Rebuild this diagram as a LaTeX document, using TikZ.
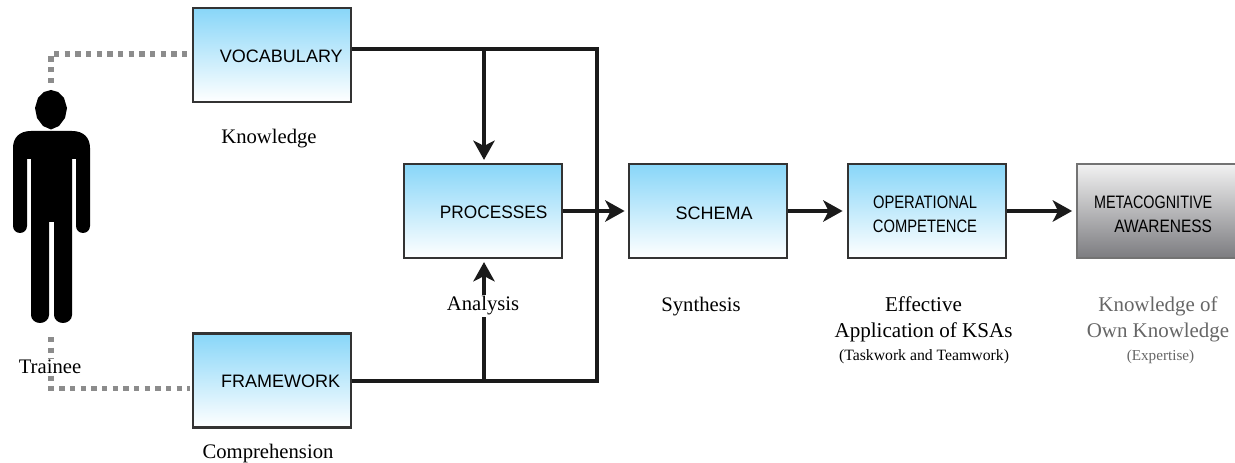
\documentclass[tikz,border=0pt]{standalone}
\usepackage{fontspec}
\usepackage{graphicx}
\setmainfont{Liberation Serif}
\newfontfamily\boxfont{Liberation Sans}
\usetikzlibrary{arrows.meta,calc,shadows}
\definecolor{skyT}{HTML}{88D6F8}
\definecolor{greyB}{HTML}{7C7C80}
\definecolor{greyT}{HTML}{F2F2F2}
\definecolor{dashg}{HTML}{8C8C8C}
\definecolor{lineK}{HTML}{1A1A1A}
\pgfdeclareverticalshading{skyshade}{100bp}{color(0bp)=(white); color(25bp)=(white); color(75bp)=(skyT); color(100bp)=(skyT)}
\pgfdeclareverticalshading{greyshade}{100bp}{color(0bp)=(greyB); color(25bp)=(greyB); color(75bp)=(greyT); color(100bp)=(greyT)}
\tikzset{
  x=0.75pt,y=-0.75pt,
  stagebox/.style={draw=black!80,line width=1.6pt,minimum width=119pt,minimum height=70.5pt,inner sep=0pt,
    shading=skyshade,font=\boxfont\fontsize{13.5}{17}\selectfont,align=center,
    drop shadow={shadow xshift=0.8pt,shadow yshift=-0.8pt,opacity=0.2}},
  greybox/.style={stagebox,draw=black!55,shading=greyshade},
  captxt/.style={font=\fontsize{15.5}{19}\selectfont,align=center,inner sep=1pt,text=black},
  smallcap/.style={font=\fontsize{11.8}{14}\selectfont,inner sep=1pt},
  link/.style={draw=lineK,line width=3pt},
  flow/.style={link,-{Stealth[length=14.5pt,width=16pt,inset=4pt]}},
  dots/.style={draw=dashg,line width=3.9pt,dash pattern=on 4pt off 4pt},
  fig/.style={fill=black,draw=none}
}
\begin{document}
\begin{tikzpicture}
\useasboundingbox (0,0) rectangle (1235,463);
% person
\fill[fig] (51,90) -- (58,92) -- (64,98) -- (67,108) -- (65,118) -- (59,126) -- (51,129.5) -- (43,126) -- (37,118) -- (35,108) -- (38,98) -- (44,92) -- cycle;
\fill[fig] (31,131) -- (72,131) .. controls (84,131) and (90,138) .. (90,148) -- (90,226) arc[start angle=0,end angle=180,x radius=7,y radius=7] -- (76,159) -- (72,159) -- (72,315) arc[start angle=0,end angle=180,x radius=9,y radius=8] -- (54,222) -- (49,222) -- (49,315) arc[start angle=0,end angle=180,x radius=9,y radius=8] -- (31,159) -- (27,159) -- (27,226) arc[start angle=0,end angle=180,x radius=7,y radius=7] -- (13,148) .. controls (13,138) and (19,131) .. (31,131) -- cycle;
% boxes
\node[stagebox,shade] (voc) at (272,55) {\hspace*{14pt}\rule{0pt}{11.2pt}VOCABULARY};
\node[stagebox,shade] (fra) at (272,380.5) {\hspace*{13pt}\rule{0pt}{10.5pt}FRAMEWORK};
\node[stagebox,shade] (pro) at (483,211) {\hspace*{16pt}\rule{0pt}{11.2pt}\scalebox{0.96}[1]{PROCESSES}};
\node[stagebox,shade] (sch) at (708,211) {\hspace*{9pt}\rule{0pt}{12.7pt}SCHEMA};
\node[stagebox,shade] (ope) at (927,211) {\hspace*{-3pt}\rule{0pt}{14.2pt}\scalebox{0.82}[1]{OPERATIONAL}\\[0.6pt]\hspace*{-3pt}\scalebox{0.82}[1]{COMPETENCE}};
\node[greybox,shade] (met) at (1156.5,211) {\hspace*{-5pt}\rule{0pt}{14.2pt}\scalebox{0.8}[1]{METACOGNITIVE}\\[0.6pt]\hspace*{10pt}\scalebox{0.86}[1]{AWARENESS}};
% captions
\node[captxt] (kno) at (269,139) {Knowledge};
\node[captxt] (com) at (268,453.5) {Comprehension};
\node[captxt,fill=white] (tra) at (50,367) {Trainee};
\node[captxt] (syn) at (701,306.5) {Synthesis};
\node[captxt,font=\fontsize{15.8}{19.5}\selectfont] (eff) at (923.5,319.5) {Effective\\Application of KSAs};
\node[smallcap] (tas) at (924,357) {(Taskwork and Teamwork)};
\node[captxt,text=black!60,font=\fontsize{15.7}{19.5}\selectfont] (own) at (1158,319) {Knowledge of\\Own Knowledge};
\node[smallcap,font=\fontsize{11.4}{14}\selectfont,text=black!60] (exp) at (1160.5,357) {(Expertise)};
% dotted links
\coordinate (pA) at (51,83);
\coordinate (pB) at (51,337);
\draw[dots] (pA) |- ($(voc.west)+(-4,-1)$);
% connectors
\coordinate (jv) at (484,49);
\coordinate (jf) at (484,381);
\coordinate (jr) at (597,49);
\draw[link] (voc.east |- jv) -- (jr) |- (fra.east |- jf);
\draw[flow] (jv) -- ($(pro.north -| jv)+(0,-3)$);
\draw[link] (jf) -- (484,316);
\node[captxt,fill=white] (ana) at (483,306) {Analysis};
\draw[flow] (ana.north -| jf) -- ($(pro.south -| jf)+(0,3)$);
\draw[flow] (pro.east) -- ($(sch.west)+(-3,0)$);
\draw[flow] (sch.east) -- ($(ope.west)+(-4,0)$);
\draw[flow] (ope.east) -- ($(met.west)+(-4,0)$);
\draw[dots] (pB) -- (tra.north -| pB);
\draw[dots] (tra.south -| pB) |- ($(fra.west)+(-2,8)$);
\end{tikzpicture}
\end{document}
